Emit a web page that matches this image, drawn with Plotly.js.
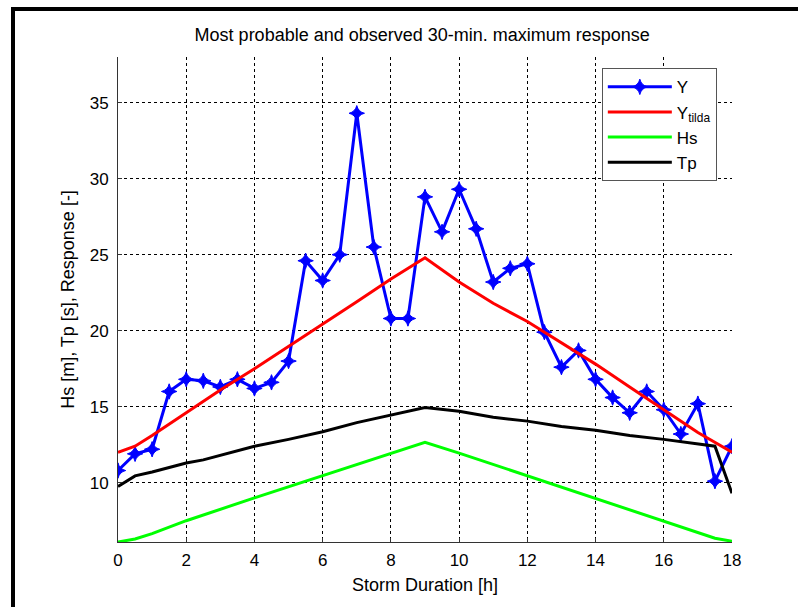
<!DOCTYPE html>
<html>
<head>
<meta charset="utf-8">
<script src="https://cdn.plot.ly/plotly-3.0.1.min.js"></script>
<style>
html,body{margin:0;padding:0;background:#fff;}
#wrap{position:relative;width:798px;height:607px;overflow:hidden;}
#plot{position:absolute;left:0;top:0;width:798px;height:607px;}
#frame{position:absolute;left:11px;top:7px;width:800px;height:620px;border-top:4px solid #000;border-left:4px solid #000;pointer-events:none;}
</style>
</head>
<body>
<div id="wrap"><div id="plot"></div><div id="frame"></div></div>
<script>
// Observed response Y (every 0.5 h)
const hoursY = [0,0.5,1,1.5,2,2.5,3,3.5,4,4.5,5,5.5,6,6.5,7,7.5,8,8.5,9,9.5,10,10.5,11,11.5,12,12.5,13,13.5,14,14.5,15,15.5,16,16.5,17,17.5,18];
const valuesY = [10.8,11.9,12.2,16.0,16.8,16.7,16.3,16.8,16.2,16.6,18.0,24.6,23.3,25.0,34.3,25.5,20.8,20.8,28.8,26.5,29.3,26.7,23.2,24.1,24.4,19.9,17.6,18.7,16.8,15.6,14.6,16.0,14.8,13.2,15.2,10.1,12.4];

// Most probable response Y_tilda
const hoursYt = [0,0.5,1,1.5,2,3,4,5,6,7,8,9,10,11,12,13,14,15,16,17,18];
const valuesYt = [12.0,12.4,13.1,13.85,14.6,16.1,17.5,18.95,20.4,21.9,23.4,24.8,23.2,21.8,20.6,19.2,17.8,16.3,14.8,13.3,12.0];

// Significant wave height Hs
const hoursHs = [0,0.5,1,2,4,6,8,9,10,11,12,13,14,15,16,17,17.5,18];
const valuesHs = [6.1,6.3,6.65,7.5,9.0,10.45,11.95,12.65,11.95,11.2,10.5,9.75,9.0,8.2,7.45,6.7,6.35,6.15];

// Peak period Tp
const hoursTp = [0,0.5,1,2,2.5,3,4,5,6,7,8,9,10,11,12,13,14,15,16,17,17.5,18];
const valuesTp = [9.75,10.45,10.7,11.3,11.5,11.8,12.4,12.85,13.35,13.95,14.45,14.95,14.7,14.3,14.05,13.7,13.45,13.1,12.85,12.55,12.4,9.3];

const xTicks = [0,2,4,6,8,10,12,14,16,18];
const yTicks = [10,15,20,25,30,35];

const FONT = 'Liberation Sans, Arial, Helvetica, sans-serif';

const traces = [
  {x: hoursY, y: valuesY, name: 'Y', mode: 'lines+markers', legendgroup: 'a',
   line: {color: '#0000ff', width: 3},
   marker: {symbol: 'star-diamond', size: 11, color: '#0000ff', line: {color: '#0000ff', width: 1}}},
  {x: hoursYt, y: valuesYt, name: 'Y<sub>tilda</sub>', mode: 'lines', legendgroup: 'b',
   line: {color: '#ff0000', width: 3}},
  {x: hoursHs, y: valuesHs, name: 'Hs', mode: 'lines', legendgroup: 'c',
   line: {color: '#00ff00', width: 3}},
  {x: hoursTp, y: valuesTp, name: 'Tp', mode: 'lines', legendgroup: 'd',
   line: {color: '#000000', width: 3}}
];

const layout = {
  width: 798, height: 607,
  margin: {l: 117.5, r: 66, t: 57, b: 65},
  paper_bgcolor: '#fff', plot_bgcolor: '#fff',
  font: {family: FONT, size: 17, color: '#000'},
  title: {text: 'Most probable and observed 30-min. maximum response',
          font: {family: FONT, size: 18, color: '#000'},
          x: 0.4955, xanchor: 'center', xref: 'paper', y: 1 - 35/607, yanchor: 'middle'},
  xaxis: {range: [0, 18], tickvals: xTicks, ticktext: xTicks.map(String),
          showline: true, linecolor: '#333', linewidth: 1, mirror: false,
          ticks: 'inside', ticklen: 4, tickcolor: '#333',
          showgrid: true, gridcolor: '#000', gridwidth: 1, griddash: '3px,3px',
          zeroline: false, ticklabelstandoff: 3,
          tickfont: {family: FONT, size: 17},
          title: {text: 'Storm Duration [h]', font: {family: FONT, size: 18}, standoff: 8}},
  yaxis: {range: [6.1, 38], tickvals: yTicks, ticktext: yTicks.map(String),
          showline: true, linecolor: '#333', linewidth: 1, mirror: false,
          ticks: 'inside', ticklen: 4, tickcolor: '#333',
          showgrid: true, gridcolor: '#000', gridwidth: 1, griddash: '3px,3px',
          zeroline: false, ticklabelstandoff: 5,
          tickfont: {family: FONT, size: 17},
          title: {text: 'Hs [m], Tp [s], Response [-]', font: {family: FONT, size: 18}, standoff: 10}},
  showlegend: true,
  legend: {x: 0.788, xanchor: 'left', y: 0.9767, yanchor: 'top',
           bgcolor: '#fff', bordercolor: '#555', borderwidth: 1,
           font: {family: FONT, size: 17}, tracegroupgap: 12, itemwidth: 64,
           traceorder: 'normal'}
};

Plotly.newPlot('plot', traces, layout, {displayModeBar: false, staticPlot: true});
</script>
</body>
</html>
